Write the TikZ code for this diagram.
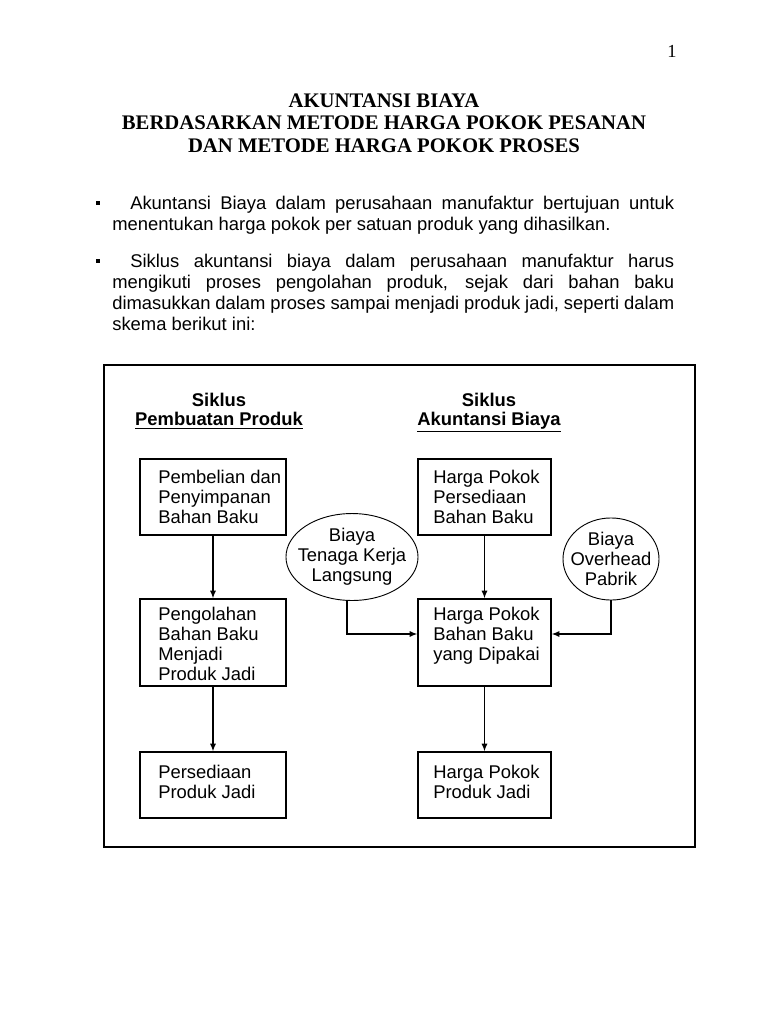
\documentclass[tikz,border=0pt]{standalone}
\usepackage{fontspec}
\setmainfont{Liberation Sans}
\newfontfamily\titlefont{Liberation Serif}
\usetikzlibrary{arrows.meta,positioning,fit,shapes.geometric}

\begin{document}
\begin{tikzpicture}[
    x=0.652pt, y=-0.652pt,
    every node/.style={inner sep=0pt},
    pagenum/.style={font=\titlefont\fontsize{12}{13}\selectfont, anchor=north},
    title/.style={font=\titlefont\bfseries\fontsize{13.5}{14.7}\selectfont,
      align=center, anchor=north},
    para/.style={font=\fontsize{12}{13.7}\selectfont, text width=366.4pt,
      align=justify, anchor=north west},
    bullet/.style={fill, minimum size=3.2pt},
    frame/.style={draw, line width=1.2pt},
    heading/.style={font=\bfseries\fontsize{12}{12.4}\selectfont,
      align=center, anchor=north},
    box/.style={draw, line width=0.9pt},
    boxtext/.style={font=\fontsize{12}{13}\selectfont, align=left,
      anchor=north west},
    cost/.style={ellipse, draw, line width=0.6pt},
    costtext/.style={font=\fontsize{12}{13}\selectfont, align=center},
    arrow/.style={-{Latex[length=5pt,width=4pt]}, line width=0.8pt}
  ]
    \useasboundingbox[fill=white] (0,0) rectangle (768,1024);

    \node[pagenum] (page) at (672,45) {1};
    \node[title] (judul) at (384,93)
      {AKUNTANSI BIAYA\\BERDASARKAN METODE HARGA POKOK PESANAN\\DAN METODE HARGA POKOK PROSES};

    \node[bullet] (dot1) at (98,203) {};
    \node[para] (par1) at (112,196)
      {\hspace*{11.7pt}Akuntansi Biaya dalam perusahaan manufaktur bertujuan untuk\linebreak
       menentukan harga pokok per satuan produk yang dihasilkan.};
    \node[bullet] (dot2) at (98,261) {};
    \node[para] (par2) at (112,254)
      {\hspace*{11.7pt}Siklus akuntansi biaya dalam perusahaan manufaktur harus\linebreak
       mengikuti proses pengolahan produk, sejak dari bahan baku\linebreak
       dimasukkan dalam proses sampai menjadi produk jadi, seperti dalam\linebreak
       skema berikut ini:};

    \node[frame, fit={(104,365) (695,847)}] (skema) {};

    \node[heading] (siklusproduk) at (219,393) {Siklus\\\underline{Pembuatan Produk}};
    \node[heading] (siklusbiaya) at (489,393) {Siklus\\\underline{Akuntansi Biaya}};

    \node[box, fit={(140,459) (286,535)}] (beli) {};
    \node[box, fit={(140,599) (286,686)}] (olah) {};
    \node[box, fit={(140,752) (286,818)}] (jadi) {};
    \node[box, fit={(418,459) (551,535)}] (hpbb) {};
    \node[box, fit={(418,599) (551,686)}] (hpdipakai) {};
    \node[box, fit={(418,752) (551,818)}] (hpjadi) {};

    \node[boxtext] (tbeli) at (158,470) {Pembelian dan\\Penyimpanan\\Bahan Baku};
    \node[boxtext] (tolah) at (158,607) {Pengolahan\\Bahan Baku\\Menjadi\\Produk Jadi};
    \node[boxtext] (tjadi) at (158,765) {Persediaan\\Produk Jadi};
    \node[boxtext] (thpbb) at (433,470) {Harga Pokok\\Persediaan\\Bahan Baku};
    \node[boxtext] (thpdipakai) at (433,607) {Harga Pokok\\Bahan Baku\\yang Dipakai};
    \node[boxtext] (thpjadi) at (433,765) {Harga Pokok\\Produk Jadi};

    \node[cost, minimum width=86.1pt, minimum height=56.7pt] (btkl) at (352,557) {};
    \node[costtext] (tbtkl) at (btkl) {Biaya\\Tenaga Kerja\\Langsung};
    \node[cost, minimum width=62.6pt, minimum height=53.5pt] (bop) at (611,559) {};
    \node[costtext] (tbop) at (bop) {Biaya\\Overhead\\Pabrik};

    \coordinate (masuk) at (347,634);

    \draw[arrow] (beli) -- (olah);
    \draw[arrow] (olah) -- (jadi);
    \draw[arrow] (hpbb) -- (hpdipakai);
    \draw[arrow] (hpdipakai) -- (hpjadi);
    \draw[arrow] (masuk |- btkl.south) -- (masuk) -- (hpdipakai.west |- masuk);
    \draw[arrow] (bop.south) |- (hpdipakai.east |- masuk);
\end{tikzpicture}
\end{document}
